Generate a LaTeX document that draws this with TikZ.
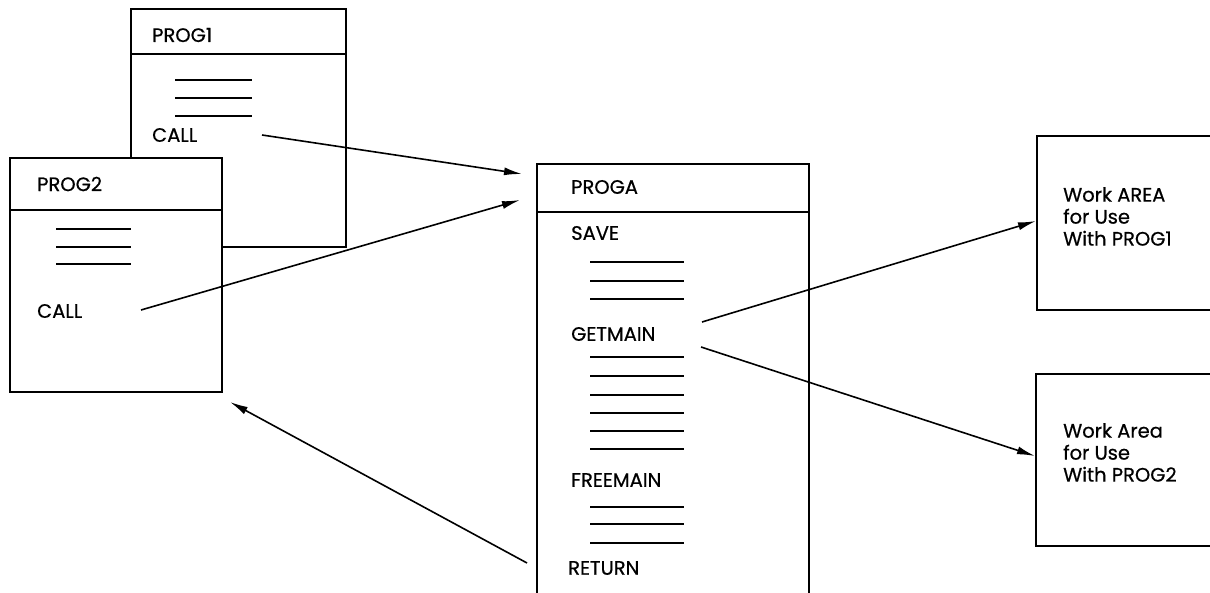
\documentclass[tikz,border=0pt]{standalone}
\usepackage{fontspec}
\setmainfont[FakeBold=0.6]{Poppins}
\usetikzlibrary{arrows.meta}
\begin{document}
\begin{tikzpicture}[x=1pt,y=-1pt]
  \tikzstyle{every node}+=[inner sep=0pt,font=\fontsize{19.5}{22}\selectfont]
  \tikzstyle{box}=[draw,line width=2pt,fill=white,anchor=north west]
  \tikzstyle{lbl}=[anchor=west]
  \tikzstyle{rule}=[line width=1.2pt]
  \tikzstyle{link}=[line width=1.6pt,-{Latex[length=18pt,width=8pt]}]
  \clip (0,0) rectangle (1210,593);
  \fill [white] (0,0) rectangle (1210,593);
  \node [box,minimum width=215pt,minimum height=238pt] (prog1) at (130,8) {};
  \draw [line width=2pt] (130,54) -- (345,54);
  \node [lbl] (p1name) at (152,35) {PROG1};
  \foreach \y in {80,98,116} \draw [rule] (175,\y) -- (252,\y);
  \node [lbl] (call1) at (152,135) {CALL};
  \node [box,minimum width=212pt,minimum height=234pt] (prog2) at (9,157) {};
  \draw [line width=2pt] (9,210) -- (221,210);
  \node [lbl] (p2name) at (37,184) {PROG2};
  \foreach \y in {229,247,264} \draw [rule] (56,\y) -- (131,\y);
  \node [lbl] (call2) at (37,311) {CALL};
  \node [box,minimum width=272pt,minimum height=500pt] (proga) at (536,163) {};
  \draw [line width=2pt] (536,212) -- (808,212);
  \node [lbl] (paname) at (571,187) {PROGA};
  \node [lbl] (save) at (571,233) {SAVE};
  \node [lbl] (getmain) at (571,334) {GETMAIN};
  \node [lbl] (freemain) at (571,480) {FREEMAIN};
  \node [lbl] (ret) at (568,568) {RETURN};
  \foreach \y in {262,281,299,357,376,395,413,431,449,507,524,543}
    \draw [rule] (590,\y) -- (684,\y);
  \node [box,minimum width=250pt,minimum height=174pt] (wa1) at (1036,135) {};
  \node [anchor=north west,align=left] (wa1txt) at (1063,187) {Work AREA\\for Use\\With PROG1};
  \node [box,minimum width=250pt,minimum height=172pt] (wa2) at (1035,373) {};
  \node [anchor=north west,align=left] (wa2txt) at (1063,423) {Work Area\\for Use\\With PROG2};
  \coordinate (c1) at (262,135);
  \coordinate (a1) at (522,174);
  \coordinate (c2) at (141,310);
  \coordinate (a2) at (520,200);
  \coordinate (g1) at (702,322);
  \coordinate (g2) at (701,347);
  \coordinate (r1) at (527,563);
  \coordinate (r2) at (230,402);
  \draw [link] (c1) -- (a1);
  \draw [link] (c2) -- (a2);
  \draw [link] (g1) -- ([yshift=2pt]wa1.west);
  \draw [link] (g2) -- ([yshift=4pt]wa2.west);
  \draw [link] (r1) -- (r2);
\end{tikzpicture}
\end{document}
